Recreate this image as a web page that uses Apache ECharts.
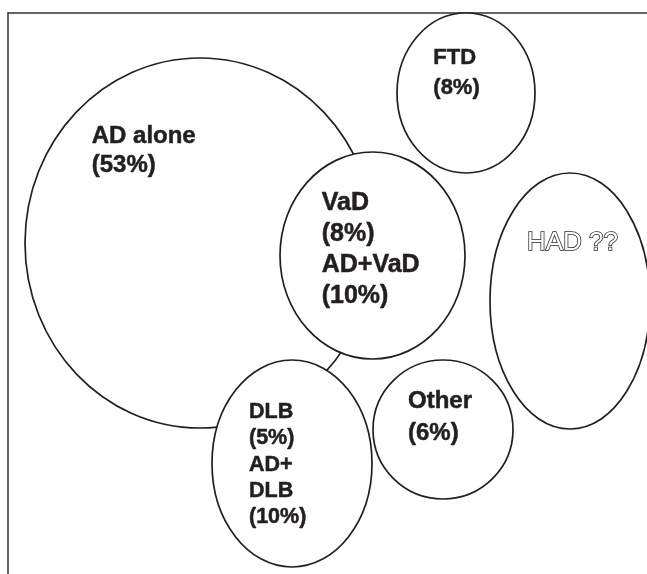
<!DOCTYPE html>
<html><head><meta charset="utf-8">
<script src="https://cdn.jsdelivr.net/npm/echarts@6/dist/echarts.min.js"></script>
<style>html,body{margin:0;padding:0;background:#fff}#c{width:647px;height:574px}</style>
</head><body><div id="c"></div>
<script>
// Groups of the diagram and their labels
const groups = ['AD alone', 'VaD / AD+VaD', 'DLB / AD+DLB', 'FTD', 'Other', 'HAD'];
const labels = ['AD alone\n(53%)', 'VaD\n(8%)\nAD+VaD\n(10%)', 'DLB\n(5%)\nAD+\nDLB\n(10%)', 'FTD\n(8%)', 'Other\n(6%)', 'HAD ??'];
// Ellipse geometry in diagram units
const centerX = [200, 372.5, 292, 466, 443, 570];
const centerY = [243, 255.5, 463.5, 93, 429.5, 301];
const radiusX = [175, 92.5, 80, 69, 70, 80];
const radiusY = [185, 103.5, 103.5, 80, 69.5, 128];

// Label layout and styles (kept apart from data)
const labelLayout = [
  {x: 91.7, y: 136.7, size: 24, lh: 29},
  {x: 321.7, y: 202.8, size: 25, lh: 31},
  {x: 249, y: 412, size: 21.5, lh: 26.3},
  {x: 433.3, y: 57.5, size: 22, lh: 30},
  {x: 408, y: 401.5, size: 24, lh: 32},
  {x: 527, y: 243, size: 26, lh: 30, outline: true}
];
const INK = '#231f20';

const chart = echarts.init(document.getElementById('c'), null, {renderer: 'canvas'});
chart.setOption({
  animation: false,
  backgroundColor: '#fff',
  grid: {left: 8, top: 13, right: 0, bottom: 0, containLabel: false},
  xAxis: {
    type: 'value', position: 'top', min: 8, max: 647,
    axisLine: {show: true, onZero: false, lineStyle: {color: '#333', width: 1.5}},
    axisTick: {show: false}, axisLabel: {show: false}, splitLine: {show: false}
  },
  yAxis: {
    type: 'value', position: 'left', inverse: true, min: 13, max: 574,
    axisLine: {show: true, onZero: false, lineStyle: {color: '#333', width: 1.5}},
    axisTick: {show: false}, axisLabel: {show: false}, splitLine: {show: false}
  },
  series: [{
    type: 'custom',
    clip: false,
    dimensions: ['cx', 'cy', 'rx', 'ry'],
    data: groups.map((g, i) => ({name: g, value: [centerX[i], centerY[i], radiusX[i], radiusY[i]]})),
    renderItem: function (params, api) {
      const i = params.dataIndex;
      const c = api.coord([api.value(0), api.value(1)]);
      const s = api.size([api.value(2), api.value(3)]);
      const lay = labelLayout[i];
      const p = api.coord([lay.x, lay.y]);
      const textStyle = lay.outline ? {
        text: labels[i], font: 'normal ' + lay.size + 'px "Liberation Sans", Arial, sans-serif',
        fill: '#fff', stroke: INK, lineWidth: 1.5, lineHeight: lay.lh, align: 'left', verticalAlign: 'top'
      } : {
        text: labels[i], font: 'bold ' + lay.size + 'px "Liberation Sans", Arial, sans-serif',
        fill: INK, stroke: INK, lineWidth: 0.5, lineHeight: lay.lh, align: 'left', verticalAlign: 'top'
      };
      return {
        type: 'group',
        children: [
          {type: 'ellipse', shape: {cx: c[0], cy: c[1], rx: Math.abs(s[0]), ry: Math.abs(s[1])},
           style: {fill: '#fff', stroke: INK, lineWidth: 1.7}},
          {type: 'text', x: p[0], y: p[1] - lay.lh / 2, style: textStyle}
        ]
      };
    }
  }]
});
</script>
</body></html>
